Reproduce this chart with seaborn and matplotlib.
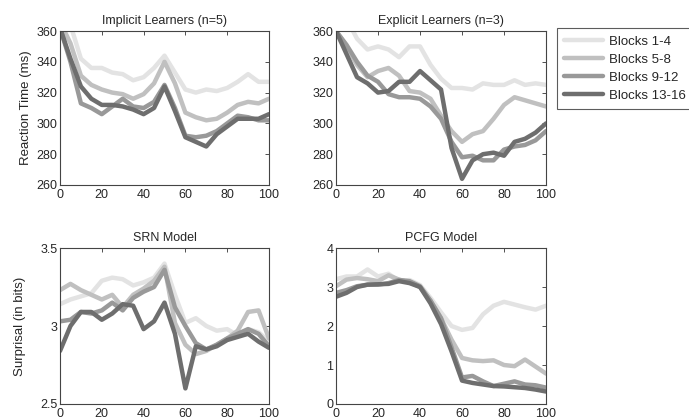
import pandas as pd
import seaborn as sns
import matplotlib.pyplot as plt

# %% Data (every 5 positions)
positions = list(range(0, 101, 5))
blocks = ['Blocks 1-4', 'Blocks 5-8', 'Blocks 9-12', 'Blocks 13-16']

implicit_b1 = [375, 364, 342, 336, 336, 333, 332, 328, 330, 336, 344, 333, 322, 320, 322, 321, 323, 327, 332, 327, 327]
implicit_b2 = [366, 352, 331, 325, 322, 320, 319, 316, 319, 326, 340, 326, 307, 304, 302, 303, 307, 312, 314, 313, 316]
implicit_b3 = [362, 340, 313, 310, 306, 311, 316, 311, 310, 314, 325, 310, 292, 291, 292, 295, 300, 305, 304, 302, 302]
implicit_b4 = [362, 342, 324, 316, 312, 312, 311, 309, 306, 310, 324, 308, 291, 288, 285, 293, 298, 303, 303, 303, 306]

explicit_b1 = [380, 368, 355, 348, 350, 348, 343, 350, 350, 338, 329, 323, 323, 322, 326, 325, 325, 328, 325, 326, 325]
explicit_b2 = [360, 350, 338, 330, 334, 336, 331, 321, 320, 316, 305, 295, 288, 293, 295, 303, 312, 317, 315, 313, 311]
explicit_b3 = [360, 351, 340, 331, 327, 319, 317, 317, 316, 311, 303, 288, 278, 279, 276, 276, 283, 285, 286, 289, 295]
explicit_b4 = [360, 345, 330, 326, 320, 321, 327, 327, 334, 328, 322, 284, 264, 276, 280, 281, 279, 288, 290, 294, 300]

srn_b1 = [3.14, 3.17, 3.19, 3.21, 3.29, 3.31, 3.30, 3.26, 3.28, 3.31, 3.40, 3.20, 3.02, 3.05, 3.00, 2.97, 2.98, 2.94, 2.98, 2.96, 2.90]
srn_b2 = [3.23, 3.27, 3.23, 3.20, 3.17, 3.20, 3.12, 3.20, 3.24, 3.29, 3.38, 3.02, 2.88, 2.82, 2.84, 2.88, 2.92, 2.97, 3.09, 3.10, 2.92]
srn_b3 = [3.03, 3.04, 3.09, 3.08, 3.10, 3.15, 3.10, 3.18, 3.22, 3.25, 3.36, 3.12, 3.00, 2.89, 2.85, 2.88, 2.92, 2.95, 2.98, 2.95, 2.87]
srn_b4 = [2.84, 3.00, 3.09, 3.09, 3.04, 3.08, 3.14, 3.13, 2.98, 3.03, 3.15, 2.95, 2.60, 2.87, 2.85, 2.87, 2.91, 2.93, 2.95, 2.90, 2.86]

pcfg_b1 = [3.20, 3.27, 3.27, 3.45, 3.27, 3.34, 3.15, 3.18, 3.05, 2.72, 2.35, 2.00, 1.90, 1.95, 2.30, 2.52, 2.62, 2.55, 2.48, 2.42, 2.52]
pcfg_b2 = [3.02, 3.19, 3.23, 3.20, 3.15, 3.30, 3.19, 3.12, 3.00, 2.65, 2.20, 1.65, 1.18, 1.12, 1.10, 1.12, 1.00, 0.97, 1.14, 0.96, 0.78]
pcfg_b3 = [2.85, 2.92, 3.02, 3.06, 3.06, 3.10, 3.18, 3.15, 3.02, 2.65, 2.20, 1.45, 0.68, 0.72, 0.58, 0.46, 0.52, 0.58, 0.50, 0.48, 0.42]
pcfg_b4 = [2.75, 2.85, 3.00, 3.06, 3.07, 3.08, 3.15, 3.10, 3.00, 2.58, 2.05, 1.35, 0.60, 0.54, 0.50, 0.46, 0.45, 0.43, 0.41, 0.37, 0.32]

greys = ['#e3e3e3', '#c0c0c0', '#999999', '#6e6e6e']


def to_long(series):
    """Stack the four block series into one long dataframe."""
    frames = []
    for name, vals in zip(blocks, series):
        frames.append(pd.DataFrame({'pos': positions, 'val': vals, 'block': name}))
    return pd.concat(frames, ignore_index=True)


# %% Figure
sns.set_style('white')
plt.rcParams['font.family'] = ['Liberation Sans', 'DejaVu Sans']
plt.rcParams['font.size'] = 9

fig = plt.figure(figsize=(6.89, 4.19), dpi=100)
ax_imp = fig.add_axes([0.0871, 0.5585, 0.3033, 0.3675])
ax_exp = fig.add_axes([0.4877, 0.5585, 0.3048, 0.3675])
ax_srn = fig.add_axes([0.0871, 0.0358, 0.3033, 0.3723])
ax_pcfg = fig.add_axes([0.4877, 0.0358, 0.3048, 0.3723])

panels = [
    (ax_imp, [implicit_b1, implicit_b2, implicit_b3, implicit_b4], 'Implicit Learners (n=5)'),
    (ax_exp, [explicit_b1, explicit_b2, explicit_b3, explicit_b4], 'Explicit Learners (n=3)'),
    (ax_srn, [srn_b1, srn_b2, srn_b3, srn_b4], 'SRN Model'),
    (ax_pcfg, [pcfg_b1, pcfg_b2, pcfg_b3, pcfg_b4], 'PCFG Model'),
]

for i, (ax, series, title) in enumerate(panels):
    sns.lineplot(data=to_long(series), x='pos', y='val', hue='block', palette=greys,
                 lw=3.2, ax=ax, legend=(i == 0))
    ax.set_title(title, fontsize=9, pad=5)
    ax.set_xlabel('')
    ax.set_ylabel('')
    ax.set_xlim(0, 100)
    ax.set_xticks([0, 20, 40, 60, 80, 100])
    ax.tick_params(direction='in', top=True, right=True, length=3, width=0.6,
                   labelsize=9, color='#333333')
    ax.tick_params(axis='x', pad=3)
    ax.tick_params(axis='y', pad=2)
    for sp in ax.spines.values():
        sp.set_color('#444444')
        sp.set_linewidth(0.8)

handles, labels = ax_imp.get_legend_handles_labels()
ax_imp.get_legend().remove()

for ax in [ax_imp, ax_exp]:
    ax.set_ylim(260, 360)
    ax.set_yticks([260, 280, 300, 320, 340, 360])
ax_srn.set_ylim(2.5, 3.5)
ax_srn.set_yticks([2.5, 3, 3.5])
ax_srn.set_yticklabels(['2.5', '3', '3.5'])
ax_pcfg.set_ylim(0, 4)
ax_pcfg.set_yticks([0, 1, 2, 3, 4])

ax_imp.set_ylabel('Reaction Time (ms)', fontsize=9.5, labelpad=3)
ax_srn.set_ylabel('Surprisal (in bits)', fontsize=9.5, labelpad=10)

leg = fig.legend(handles, labels, loc='upper left', bbox_to_anchor=(0.8084, 0.933),
                 borderaxespad=0, frameon=True, fancybox=False, fontsize=9.5,
                 handlelength=2.9, handletextpad=0.5, labelspacing=0.45,
                 borderpad=0.55)
leg.get_frame().set_edgecolor('#333333')
leg.get_frame().set_linewidth(0.8)

fig.savefig('out.png', dpi=100)
